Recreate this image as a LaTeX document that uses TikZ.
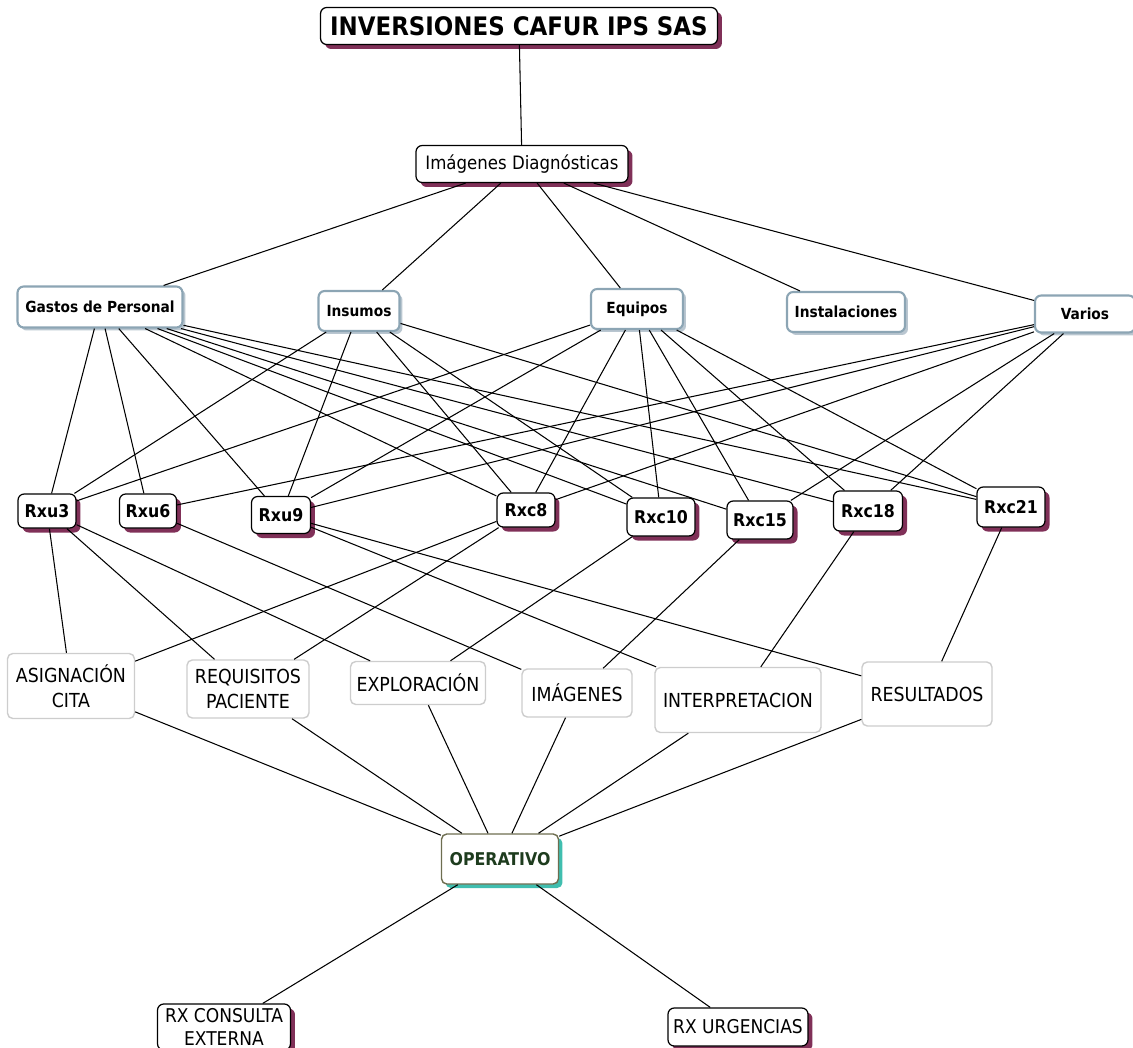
\documentclass[tikz,border=0pt]{standalone}
\usepackage{fontspec}
\setmainfont{DejaVu Sans Condensed}
\usetikzlibrary{math,shadows}
\definecolor{plum}{RGB}{128,48,88}
\definecolor{steel}{RGB}{140,165,180}
\definecolor{steelshade}{RGB}{185,198,208}
\definecolor{boxgray}{RGB}{205,205,205}
\definecolor{opshade}{RGB}{64,190,175}
\definecolor{opborder}{RGB}{110,110,80}
\definecolor{optext}{RGB}{30,60,30}

\begin{document}
\begin{tikzpicture}[x=0.02cm, y=-0.02cm, line width=0.6pt,
    topbox/.style={draw, fill=white, rounded corners=3.5pt, line width=0.7pt, inner sep=0pt,
        drop shadow={shadow xshift=0.09cm, shadow yshift=-0.09cm, fill=plum, opacity=1}},
    groupbox/.style={draw=steel, fill=white, rounded corners=3.5pt, line width=1.2pt, inner sep=0pt,
        font=\fontsize{8.7}{10}\selectfont\bfseries,
        drop shadow={shadow xshift=0.06cm, shadow yshift=-0.06cm, fill=steelshade, opacity=1}},
    rxbox/.style={topbox, font=\fontsize{10}{12}\selectfont\bfseries},
    stagebox/.style={draw=boxgray, fill=white, rounded corners=3pt, line width=0.8pt, inner sep=0pt,
        align=center, font=\fontsize{11}{14}\selectfont},
    exitbox/.style={topbox, align=center, font=\fontsize{10.8}{13.5}\selectfont}]
    \tikzmath{\W = 1133; \H = 1048;}
    \useasboundingbox (0,0) rectangle (\W,\H);

    % company and area
    \node[topbox, minimum width=7.94cm, minimum height=0.74cm, font=\fontsize{14.5}{16}\selectfont\bfseries] (T) at (519,26) {INVERSIONES CAFUR IPS SAS};
    \node[topbox, minimum width=4.24cm, minimum height=0.74cm, font=\fontsize{10.5}{13}\selectfont] (ID) at (522,164) {Imágenes Diagnósticas};

    % cost groups
    \node[groupbox, minimum width=3.3cm, minimum height=0.82cm] (GP) at (100,307) {Gastos de Personal};
    \node[groupbox, minimum width=1.62cm, minimum height=0.8cm] (IN) at (359,311) {Insumos};
    \node[groupbox, minimum width=1.84cm, minimum height=0.8cm] (EQ) at (637,309) {Equipos};
    \node[groupbox, minimum width=2.36cm, minimum height=0.8cm] (IS) at (846,312) {Instalaciones};
    \node[groupbox, minimum width=2.0cm, minimum height=0.74cm] (VA) at (1085,314) {Varios};

    % resources
    \node[rxbox, minimum width=1.16cm, minimum height=0.68cm] (U3) at (47,511) {Rxu3};
    \node[rxbox, minimum width=1.14cm, minimum height=0.68cm] (U6) at (148,511) {Rxu6};
    \node[rxbox, minimum width=1.18cm, minimum height=0.74cm] (U9) at (281,515) {Rxu9};
    \node[rxbox, minimum width=1.16cm, minimum height=0.68cm] (C8) at (526,510) {Rxc8};
    \node[rxbox, minimum width=1.36cm, minimum height=0.76cm] (C10) at (661,517) {Rxc10};
    \node[rxbox, minimum width=1.32cm, minimum height=0.76cm] (C15) at (760,520) {Rxc15};
    \node[rxbox, minimum width=1.38cm, minimum height=0.8cm] (C18) at (868,511) {Rxc18};
    \node[rxbox, minimum width=1.36cm, minimum height=0.8cm] (C21) at (1011,507) {Rxc21};

    % activities
    \node[stagebox, minimum width=2.54cm, minimum height=1.3cm] (AS) at (71,686) {ASIGNACIÓN\\CITA};
    \node[stagebox, minimum width=2.44cm, minimum height=1.16cm] (RQ) at (248,689) {REQUISITOS\\PACIENTE};
    \node[stagebox, minimum width=2.7cm, minimum height=0.86cm] (EX) at (418,683) {EXPLORACIÓN};
    \node[stagebox, minimum width=2.2cm, minimum height=0.96cm] (IM) at (577,693) {IMÁGENES};
    \node[stagebox, minimum width=3.32cm, minimum height=1.3cm] (IT) at (738,700) {INTERPRETACION};
    \node[stagebox, minimum width=2.6cm, minimum height=1.28cm] (RE) at (927,694) {RESULTADOS};

    \node[draw=opborder, fill=white, rounded corners=3pt, line width=0.8pt, inner sep=0pt,
        minimum width=2.34cm, minimum height=1.0cm, text=optext,
        font=\fontsize{10}{12}\selectfont\bfseries,
        drop shadow={shadow xshift=0.08cm, shadow yshift=-0.08cm, fill=opshade, opacity=1}] (OP) at (500,859) {OPERATIVO};

    % cost objects
    \node[exitbox, minimum width=2.66cm, minimum height=0.92cm] (CE) at (224,1027) {RX CONSULTA\\EXTERNA};
    \node[exitbox, minimum width=2.8cm, minimum height=0.76cm] (UR) at (738,1027) {RX URGENCIAS};

    \draw (T)--(ID);
    \foreach \g in {GP,IN,EQ,IS,VA} \draw (ID)--(\g);
    \foreach \r in {U3,U6,U9,C8,C10,C15,C18,C21} \draw (GP)--(\r);
    \foreach \r in {U3,U9,C8,C10,C21} \draw (IN)--(\r);
    \foreach \r in {U3,U9,C8,C10,C15,C18,C21} \draw (EQ)--(\r);
    \foreach \r in {U6,U9,C8,C15,C18} \draw (VA)--(\r);

    \foreach \a in {AS,RQ,EX} \draw (U3)--(\a);
    \draw (U6)--(IM);
    \draw (U9)--(IT);
    \draw (U9)--(RE);
    \draw (C8)--(AS);
    \draw (C8)--(RQ);
    \draw (C10)--(EX);
    \draw (C15)--(IM);
    \draw (C18)--(IT);
    \draw (C21)--(RE);

    \foreach \a in {AS,RQ,EX,IM,IT,RE} \draw (\a)--(OP);
    \draw (OP)--(CE);
    \draw (OP)--(UR);
\end{tikzpicture}
\end{document}
